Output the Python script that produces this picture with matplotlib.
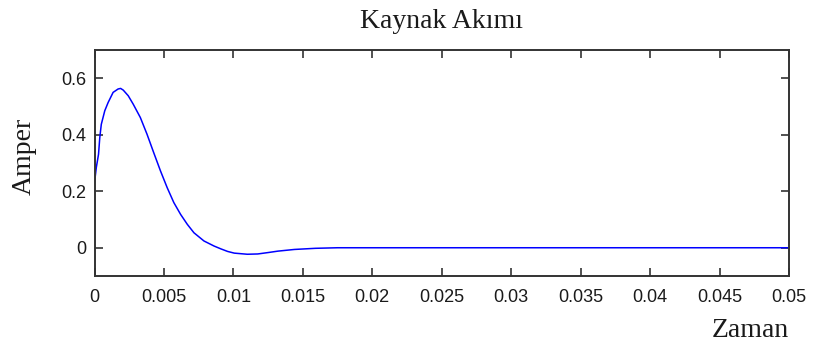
import matplotlib
matplotlib.use("Agg")
import matplotlib.pyplot as plt

# Source current over time
time_s = [0, 0.00013, 0.00029, 0.00038, 0.00049, 0.00074, 0.00098, 0.00134,
          0.0017, 0.00188, 0.00207, 0.00243, 0.00279, 0.0033, 0.00378,
          0.00426, 0.00475, 0.00523, 0.00571, 0.0062, 0.00668, 0.00716,
          0.00788, 0.00861, 0.0091, 0.00958, 0.01006, 0.011, 0.01175,
          0.0125, 0.0132, 0.0144, 0.0159, 0.0175, 0.05]
current_a = [0.23, 0.284, 0.331, 0.39, 0.437, 0.485, 0.514, 0.55,
             0.562, 0.564, 0.558, 0.538, 0.508, 0.461, 0.402,
             0.337, 0.272, 0.213, 0.160, 0.118, 0.083, 0.053,
             0.024, 0.006, -0.004, -0.013, -0.019, -0.023, -0.022,
             -0.017, -0.012, -0.006, -0.002, 0.0, 0.0]

x_ticks = [0, 0.005, 0.01, 0.015, 0.02, 0.025, 0.03, 0.035, 0.04, 0.045, 0.05]
x_tick_labels = ["0", "0.005", "0.01", "0.015", "0.02", "0.025", "0.03",
                 "0.035", "0.04", "0.045", "0.05"]
y_ticks = [0, 0.2, 0.4, 0.6]
y_tick_labels = ["0", "0.2", "0.4", "0.6"]

W, H = 815, 349
fig = plt.figure(figsize=(W / 100, H / 100), dpi=100)
fig.patch.set_facecolor("white")

left, right, top, bottom = 94.5, 789, 50, 276
ax = fig.add_axes([left / W, 1 - bottom / H, (right - left) / W, (bottom - top) / H])

ax.plot(time_s, current_a, color="#0000ff", lw=1.1)
ax.set_xlim(0, 0.05)
ax.set_ylim(-0.1, 0.7)

ax.set_xticks(x_ticks)
ax.set_xticklabels(x_tick_labels)
ax.set_yticks(y_ticks)
ax.set_yticklabels(y_tick_labels)

txt_color = "#1a1a1a"
ax.tick_params(direction="in", length=6, width=1.2, color="#333333",
               top=True, right=True, labelsize=13, labelcolor=txt_color)
ax.tick_params(axis="x", pad=9)
ax.tick_params(axis="y", pad=6)
for lab in ax.get_xticklabels() + ax.get_yticklabels():
    lab.set_fontfamily("Liberation Sans")
for sp in ax.spines.values():
    sp.set_color("#333333")
    sp.set_linewidth(1.4)

serif = "Liberation Serif"
fig.text(441.7 / W, 1 - 28 / H, "Kaynak Akımı", ha="center", va="baseline",
         fontsize=20, family=serif, color=txt_color)
fig.text(789 / W, 1 - 337 / H, "Zaman", ha="right", va="baseline",
         fontsize=20, family=serif, color=txt_color)
fig.text(24 / W, 1 - 156 / H, "Amper", ha="center", va="center", rotation=90,
         fontsize=20, family=serif, color=txt_color)

fig.savefig("out.png", dpi=100, facecolor="white")
